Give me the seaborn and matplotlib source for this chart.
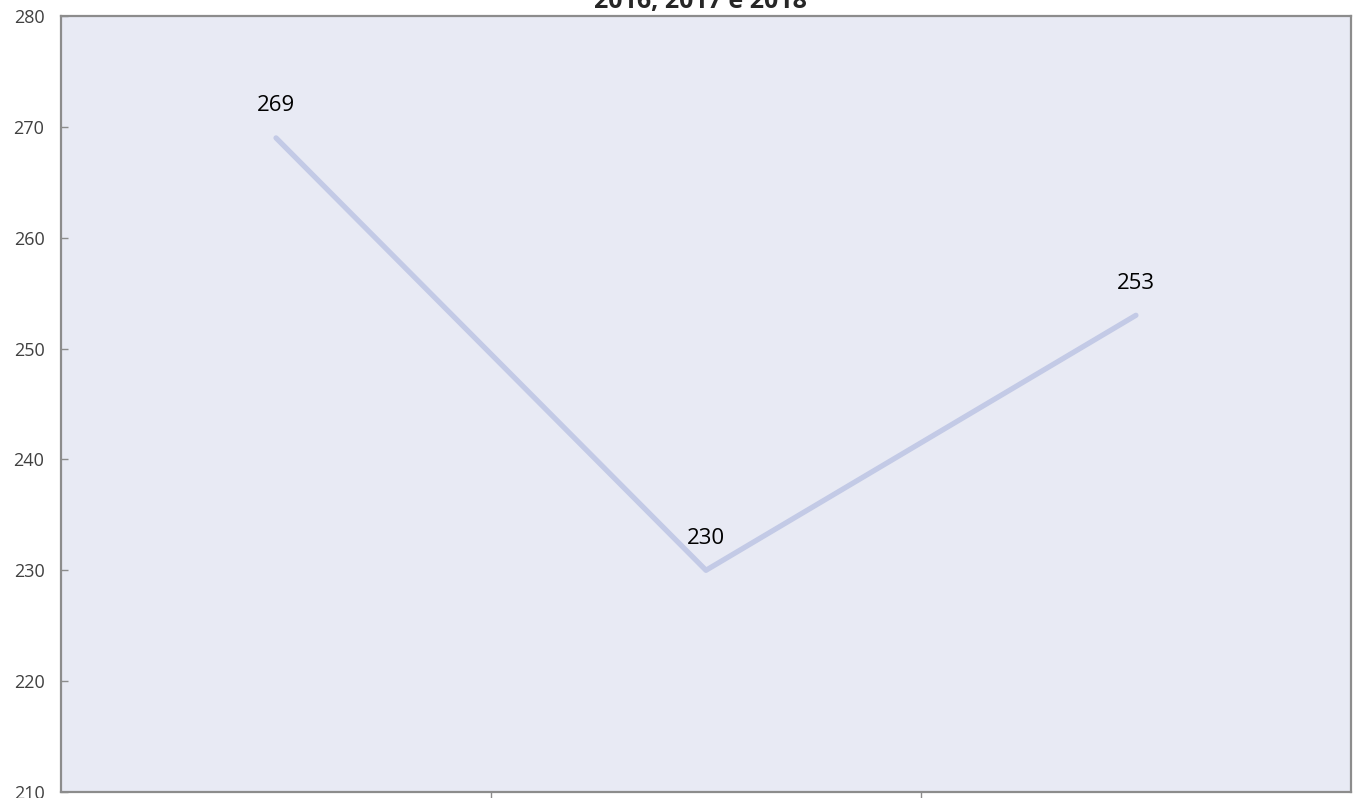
import pandas as pd
import matplotlib.pyplot as plt
import seaborn as sns

anos = ['2016', '2017', '2018']
valores = [269, 230, 253]
titulo = '2016, 2017 e 2018'

df = pd.DataFrame({'ano': anos, 'valor': valores})

sns.set_theme(style='white')
plt.rcParams['font.family'] = ['Open Sans', 'DejaVu Sans']

fig = plt.figure(figsize=(13.57, 7.98), dpi=100)
ax = fig.add_axes([0.045, 0.0075, 0.9505, 0.9725])
ax.set_facecolor('#e8eaf4')

sns.lineplot(data=df, x='ano', y='valor', ax=ax, color='#c3cae6', linewidth=3.8, sort=False)

for i, v in enumerate(valores):
    ax.annotate(str(v), (i, v), xytext=(0, 23), textcoords='offset points',
                ha='center', va='center', fontsize=16, color='black')

ax.set_xlim(-0.5, 2.5)
ax.set_ylim(210, 280)
ax.set_yticks(range(210, 281, 10))
ax.set_xticks([0.5, 1.5])
ax.set_xticklabels([])
ax.tick_params(axis='y', left=True, direction='in', length=5, width=1, color='#8c8c8c',
               labelsize=13, labelcolor='#404040', pad=12)
ax.tick_params(axis='x', bottom=True, direction='out', length=5, width=1, color='#8c8c8c')
ax.set_xlabel('')
ax.set_ylabel('')
for s in ax.spines.values():
    s.set_color('#8c8c8c')
    s.set_linewidth(1.6)

fig.text(0.516, 0.998, titulo, ha='center', va='center', fontsize=18, fontweight='bold')

fig.savefig('out.png', dpi=100)
